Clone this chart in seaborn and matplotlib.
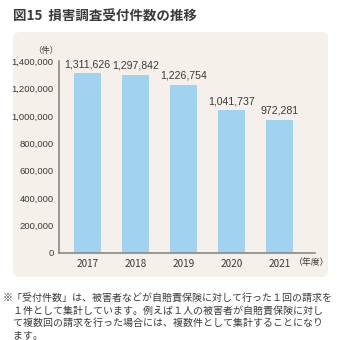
import matplotlib
matplotlib.use("Agg")
import matplotlib.pyplot as plt
from matplotlib import font_manager
from matplotlib.patches import FancyBboxPatch
import seaborn as sns
import pandas as pd

years = ["2017", "2018", "2019", "2020", "2021"]
counts = [1311626, 1297842, 1226754, 1041737, 972281]
y_ticks = [0, 200000, 400000, 600000, 800000, 1000000, 1200000, 1400000]

title = "図15  損害調査受付件数の推移"
note_lines = [
    "※「受付件数」は、被害者などが自賠責保険に対して行った１回の請求を",
    "　１件として集計しています。例えば１人の被害者が自賠責保険に対し",
    "　て複数回の請求を行った場合には、複数件として集計することになり",
    "　ます。",
]

sns.set_theme(style="white")
installed = {f.name for f in font_manager.fontManager.ttflist}
narrow = "Liberation Sans Narrow" if "Liberation Sans Narrow" in installed else "Liberation Sans"
plt.rcParams["font.family"] = ["Noto Sans CJK JP", "DejaVu Sans"]

text_col = "#3a3a3a"
bar_col = "#a0d3f0"
panel_col = "#f5f1ea"
axis_col = "#8a8a8a"

fig = plt.figure(figsize=(3.44, 3.40), dpi=100)
fig.patch.set_facecolor("white")

# rounded background panel behind the chart
panel = FancyBboxPatch((13 / 344, 1 - 277 / 340), (328 - 13) / 344, (277 - 32) / 340,
                       boxstyle="round,pad=0,rounding_size=0.02",
                       transform=fig.transFigure, facecolor=panel_col,
                       edgecolor="none", zorder=-10)
fig.patches.append(panel)

fig.text(13 / 344, 1 - 17 / 340, title, fontsize=9.7, fontweight="bold",
         color=text_col, va="center", ha="left")

ax = fig.add_axes([59 / 344, 1 - 253 / 340, 256 / 344, (253 - 61) / 340])
ax.set_facecolor("none")

df = pd.DataFrame({"year": years, "count": counts})
sns.barplot(data=df, x="year", y="count", color=bar_col, width=0.56,
            saturation=1, linewidth=0, edgecolor="none", ax=ax, zorder=2)

ax.set_ylim(0, 1400000)
ax.set_xlim(-0.59, 4.74)
ax.set_yticks(y_ticks)
ax.set_yticklabels([f"{v:,}" for v in y_ticks], fontfamily=narrow,
                   fontsize=6.8, color=text_col)
ax.set_xticklabels(years, fontsize=7.2, color=text_col)
ax.tick_params(axis="y", direction="in", length=3, width=0.8, color=axis_col, pad=4)
ax.tick_params(axis="x", length=0, pad=4)
ax.set_xlabel("")
ax.set_ylabel("")
for side in ["top", "right"]:
    ax.spines[side].set_visible(False)
for side in ["left", "bottom"]:
    ax.spines[side].set_color(axis_col)
    ax.spines[side].set_linewidth(1.2)

for i, v in enumerate(counts):
    ax.text(i, v + 30000, f"{v:,}", ha="center", va="bottom",
            fontfamily=narrow, fontsize=7.6, color=text_col)

fig.text(46 / 344, 1 - 50 / 340, "（件）", fontsize=6,
         color=text_col, ha="center", va="center")
ax.text(4.3, -0.052, "（年度）", transform=ax.get_xaxis_transform(), fontsize=6.4,
        color=text_col, ha="left", va="center")

for k, line in enumerate(note_lines):
    fig.text(3 / 344, 1 - (298 + 12.5 * k) / 340, line, fontsize=7.2,
             color=text_col, ha="left", va="center")

fig.savefig("out.png", dpi=100)
